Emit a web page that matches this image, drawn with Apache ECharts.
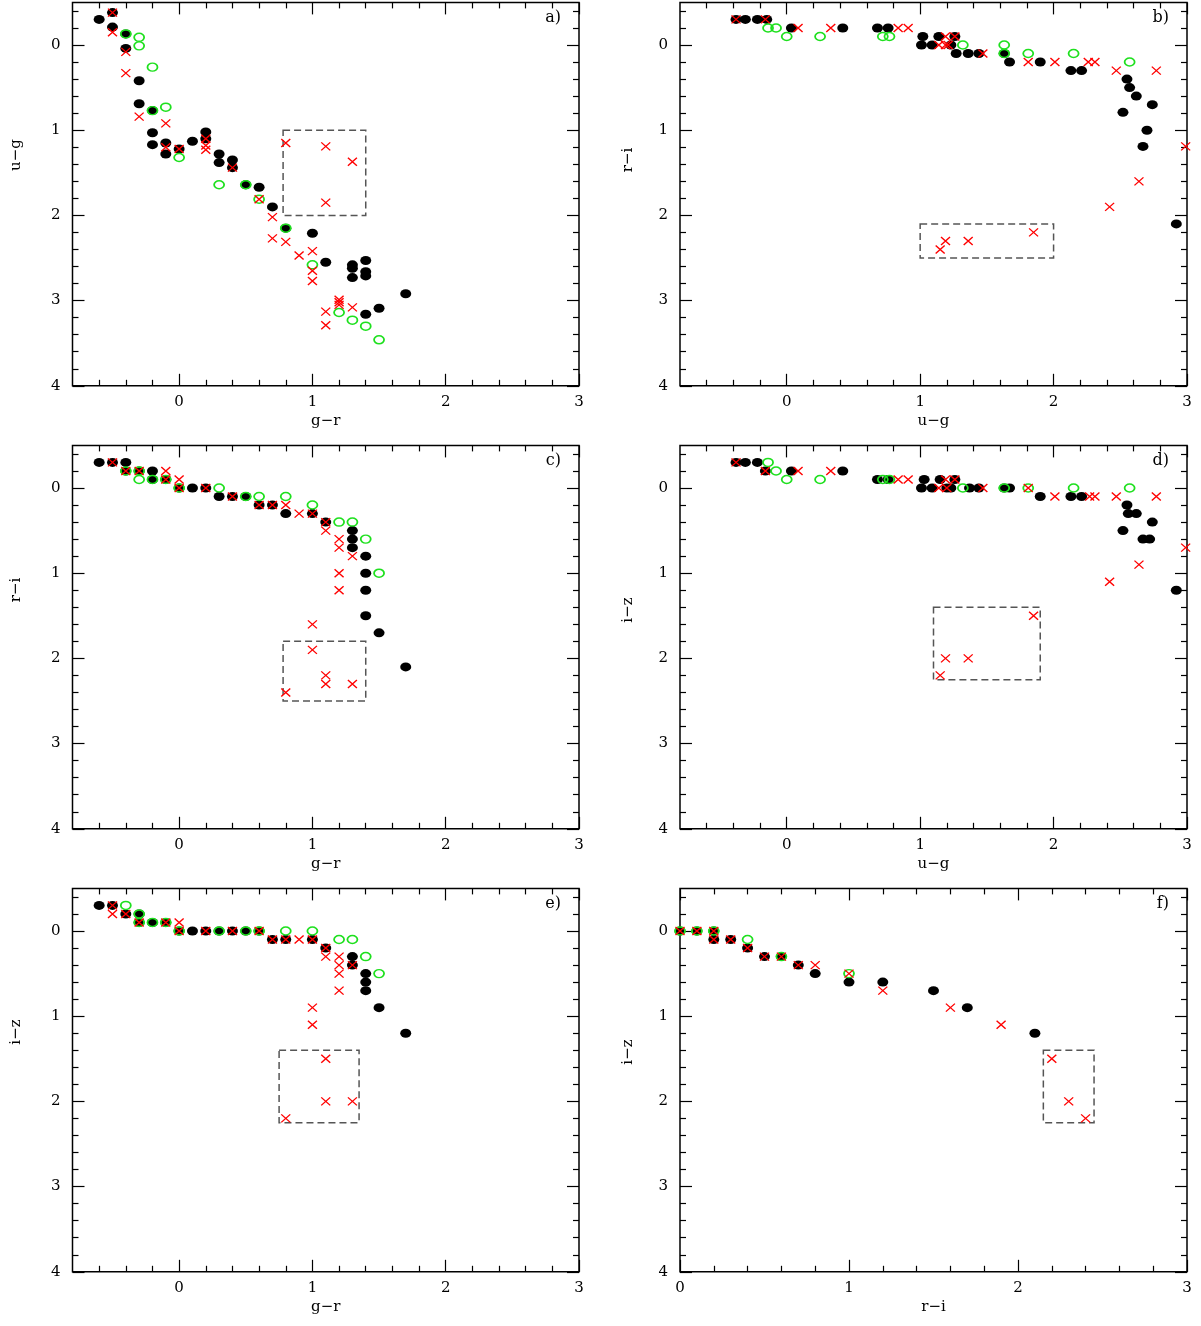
<!DOCTYPE html>
<html>
<head>
<meta charset="utf-8">
<script src="https://cdn.jsdelivr.net/npm/echarts@6/dist/echarts.min.js"></script>
<style>
  html, body { margin: 0; padding: 0; background: #fff; }
  #chart { width: 1201px; height: 1326px; }
</style>
</head>
<body>
<div id="chart"></div>
<script>
// ---- tick positions ----
var xMajor = [0, 1, 2, 3];
var xMinor = [-0.6, -0.4, -0.2, 0.2, 0.4, 0.6, 0.8, 1.2, 1.4, 1.6, 1.8, 2.2, 2.4, 2.6, 2.8];
var fMinor = [0.2, 0.4, 0.6, 0.8, 1.2, 1.4, 1.6, 1.8, 2.2, 2.4, 2.6, 2.8];
var yMajor = [0, 1, 2, 3, 4];
var yMinor = [-0.4, -0.2, 0.2, 0.4, 0.6, 0.8, 1.2, 1.4, 1.6, 1.8, 2.2, 2.4, 2.6, 2.8, 3.2, 3.4, 3.6, 3.8];

// ---- a) g-r vs u-g ----
var aBlack = [[-0.6,-0.3],[-0.5,-0.38],[-0.5,-0.21],[-0.4,-0.13],[-0.4,0.04],[-0.3,0.42],[-0.3,0.69],[-0.2,0.77],
  [-0.2,1.03],[-0.2,1.17],[-0.1,1.15],[-0.1,1.28],[0,1.22],[0.1,1.13],[0.2,1.02],[0.2,1.1],[0.3,1.28],[0.3,1.38],
  [0.4,1.35],[0.4,1.44],[0.5,1.64],[0.6,1.67],[0.7,1.9],[0.8,2.15],[1.0,2.21],[1.1,2.55],[1.3,2.58],[1.3,2.62],
  [1.3,2.73],[1.4,2.53],[1.4,2.66],[1.4,2.71],[1.7,2.92],[1.5,3.09],[1.4,3.16]];
var aGreen = [[-0.4,-0.13],[-0.3,-0.09],[-0.3,0.01],[-0.2,0.26],[-0.2,0.77],[-0.1,0.73],[0,1.32],[0.3,1.64],
  [0.5,1.64],[0.6,1.81],[0.8,2.15],[1.0,2.58],[1.2,3.14],[1.3,3.23],[1.4,3.3],[1.5,3.46]];
var aRed = [[-0.5,-0.38],[-0.5,-0.15],[-0.4,0.08],[-0.4,0.33],[-0.3,0.84],[-0.1,0.92],[-0.1,1.2],[0,1.22],
  [0.2,1.1],[0.2,1.18],[0.2,1.23],[0.4,1.44],[0.6,1.81],[0.7,2.02],[0.7,2.27],[0.8,2.31],[0.9,2.47],[1.0,2.42],
  [1.0,2.65],[1.0,2.77],[1.2,2.99],[1.2,3.02],[1.2,3.05],[1.3,3.08],[1.1,3.13],[1.1,3.29],
  [0.8,1.15],[1.1,1.19],[1.3,1.37],[1.1,1.85]];
var aBox = [[0.78, 1.0], [1.4, 2.0]];

// ---- b) u-g vs r-i ----
var bBlack = [[-0.38,-0.3],[-0.31,-0.3],[-0.22,-0.3],[-0.15,-0.3],[0.035,-0.2],[0.42,-0.2],[0.68,-0.2],[0.76,-0.2],
  [1.02,-0.1],[1.14,-0.1],[1.26,-0.1],[1.01,0],[1.09,0],[1.23,0],[1.27,0.1],[1.36,0.1],[1.44,0.1],[1.63,0.1],
  [1.67,0.2],[1.9,0.2],[2.13,0.3],[2.21,0.3],[2.55,0.4],[2.57,0.5],[2.62,0.6],[2.74,0.7],[2.52,0.79],[2.7,1.0],
  [2.67,1.19],[2.92,2.1]];
var bGreen = [[-0.14,-0.2],[-0.08,-0.2],[0,-0.1],[0.25,-0.1],[0.72,-0.1],[0.77,-0.1],[1.32,0],[1.63,0],
  [1.63,0.1],[1.81,0.1],[2.15,0.1],[2.57,0.2]];
var bRed = [[-0.38,-0.3],[-0.16,-0.3],[0.085,-0.2],[0.33,-0.2],[0.835,-0.2],[0.91,-0.2],[1.19,-0.1],[1.26,-0.1],
  [1.14,0],[1.19,0],[1.21,0],[1.47,0.1],[1.81,0.2],[2.01,0.2],[2.26,0.2],[2.31,0.2],[2.47,0.3],[2.77,0.3],
  [2.99,1.19],[2.64,1.6],[2.42,1.9],[1.19,2.3],[1.15,2.4],[1.36,2.3],[1.85,2.2]];
var bBox = [[1.0, 2.1], [2.0, 2.5]];

// ---- c) g-r vs r-i ----
var cBlack = [[-0.6,-0.3],[-0.5,-0.3],[-0.4,-0.3],[-0.4,-0.2],[-0.3,-0.2],[-0.2,-0.2],[-0.2,-0.1],[-0.1,-0.1],
  [0,0],[0.1,0],[0.2,0],[0.3,0.1],[0.4,0.1],[0.5,0.1],[0.6,0.2],[0.7,0.2],[0.8,0.3],[1.0,0.3],[1.1,0.4],
  [1.3,0.5],[1.3,0.6],[1.3,0.7],[1.4,0.8],[1.4,1.0],[1.4,1.2],[1.4,1.5],[1.5,1.7],[1.7,2.1]];
var cGreen = [[-0.4,-0.2],[-0.3,-0.2],[-0.3,-0.1],[-0.2,-0.1],[-0.1,-0.1],[0,0],[0.3,0],[0.5,0.1],[0.6,0.1],
  [0.8,0.1],[1.0,0.2],[1.2,0.4],[1.3,0.4],[1.4,0.6],[1.5,1.0]];
var cRed = [[-0.5,-0.3],[-0.4,-0.2],[-0.3,-0.2],[-0.1,-0.2],[-0.1,-0.1],[0,-0.1],[0,0],[0.2,0],[0.4,0.1],
  [0.6,0.2],[0.7,0.2],[0.8,0.2],[0.9,0.3],[1.0,0.3],[1.1,0.4],[1.1,0.5],[1.2,0.6],[1.2,0.7],[1.3,0.8],
  [1.2,1.0],[1.2,1.2],[1.0,1.6],[1.0,1.9],[1.1,2.2],[1.1,2.3],[1.3,2.3],[0.8,2.4]];
var cBox = [[0.78, 1.8], [1.4, 2.5]];

// ---- d) u-g vs i-z ----
var dBlack = [[-0.38,-0.3],[-0.31,-0.3],[-0.22,-0.3],[-0.16,-0.2],[0.035,-0.2],[0.42,-0.2],[0.68,-0.1],[0.76,-0.1],
  [1.03,-0.1],[1.15,-0.1],[1.26,-0.1],[1.01,0],[1.09,0],[1.2,0],[1.23,0],[1.37,0],[1.44,0],[1.63,0],[1.67,0],
  [1.9,0.1],[2.13,0.1],[2.21,0.1],[2.55,0.2],[2.56,0.3],[2.62,0.3],[2.74,0.4],[2.52,0.5],[2.67,0.6],[2.72,0.6],
  [2.92,1.2]];
var dGreen = [[-0.14,-0.3],[-0.08,-0.2],[0,-0.1],[0.25,-0.1],[0.72,-0.1],[0.77,-0.1],[1.32,0],[1.63,0],
  [1.81,0],[2.15,0],[2.57,0]];
var dRed = [[-0.38,-0.3],[-0.16,-0.2],[0.085,-0.2],[0.33,-0.2],[0.835,-0.1],[0.91,-0.1],[1.19,-0.1],[1.26,-0.1],
  [1.14,0],[1.2,0],[1.47,0],[1.81,0],[2.01,0.1],[2.27,0.1],[2.31,0.1],[2.47,0.1],[2.77,0.1],[2.99,0.7],
  [2.64,0.9],[2.42,1.1],[1.85,1.5],[1.19,2.0],[1.36,2.0],[1.15,2.2]];
var dBox = [[1.1, 1.4], [1.9, 2.25]];

// ---- e) g-r vs i-z ----
var eBlack = [[-0.6,-0.3],[-0.5,-0.3],[-0.4,-0.2],[-0.3,-0.2],[-0.3,-0.1],[-0.2,-0.1],[-0.1,-0.1],[0,0],[0.1,0],
  [0.2,0],[0.3,0],[0.4,0],[0.5,0],[0.6,0],[0.7,0.1],[0.8,0.1],[1.0,0.1],[1.1,0.2],[1.3,0.3],[1.3,0.4],
  [1.4,0.5],[1.4,0.6],[1.4,0.7],[1.5,0.9],[1.7,1.2]];
var eGreen = [[-0.4,-0.3],[-0.3,-0.2],[-0.3,-0.1],[-0.2,-0.1],[-0.1,-0.1],[0,0],[0.3,0],[0.5,0],[0.6,0],
  [0.8,0],[1.0,0],[1.2,0.1],[1.3,0.1],[1.4,0.3],[1.5,0.5]];
var eRed = [[-0.5,-0.3],[-0.5,-0.2],[-0.4,-0.2],[-0.3,-0.1],[-0.1,-0.1],[0,-0.1],[0,0],[0.2,0],[0.4,0],[0.6,0],
  [0.7,0.1],[0.8,0.1],[0.9,0.1],[1.0,0.1],[1.1,0.2],[1.1,0.3],[1.2,0.3],[1.2,0.4],[1.3,0.4],[1.2,0.5],
  [1.2,0.7],[1.0,0.9],[1.0,1.1],[1.1,1.5],[1.1,2.0],[1.3,2.0],[0.8,2.2]];
var eBox = [[0.75, 1.4], [1.35, 2.25]];

// ---- f) r-i vs i-z ----
var fBlack = [[0,0],[0.1,0],[0.2,0],[0.2,0.1],[0.3,0.1],[0.4,0.2],[0.5,0.3],[0.6,0.3],[0.7,0.4],[0.8,0.5],
  [1.0,0.6],[1.2,0.6],[1.5,0.7],[1.7,0.9],[2.1,1.2]];
var fGreen = [[0,0],[0.1,0],[0.2,0],[0.4,0.1],[0.6,0.3],[1.0,0.5]];
var fRed = [[0,0],[0.1,0],[0.2,0],[0.2,0.1],[0.3,0.1],[0.4,0.2],[0.5,0.3],[0.6,0.3],[0.7,0.4],[0.8,0.4],
  [1.0,0.5],[1.2,0.7],[1.6,0.9],[1.9,1.1],[2.2,1.5],[2.3,2.0],[2.4,2.2]];
var fBox = [[2.15, 1.4], [2.45, 2.25]];

var FONT = 'DejaVu Serif';
var MINUS = '\u2212';

var panels = [
  { tag: 'a)', grid: { left: 72.5, top: 2.4, width: 506.5, height: 383.4 }, x: [-0.8, 3], xMinor: xMinor,
    xName: 'g' + MINUS + 'r', yName: 'u' + MINUS + 'g', yTitle: [16, 155], black: aBlack, green: aGreen, red: aRed, box: aBox },
  { tag: 'b)', grid: { left: 680, top: 2.4, width: 507, height: 383.4 }, x: [-0.8, 3], xMinor: xMinor,
    xName: 'u' + MINUS + 'g', yName: 'r' + MINUS + 'i', yTitle: [628, 160], black: bBlack, green: bGreen, red: bRed, box: bBox },
  { tag: 'c)', grid: { left: 72.5, top: 445.4, width: 506.5, height: 383.4 }, x: [-0.8, 3], xMinor: xMinor,
    xName: 'g' + MINUS + 'r', yName: 'r' + MINUS + 'i', yTitle: [16, 590], black: cBlack, green: cGreen, red: cRed, box: cBox },
  { tag: 'd)', grid: { left: 680, top: 445.4, width: 507, height: 383.4 }, x: [-0.8, 3], xMinor: xMinor,
    xName: 'u' + MINUS + 'g', yName: 'i' + MINUS + 'z', yTitle: [628, 610], black: dBlack, green: dGreen, red: dRed, box: dBox },
  { tag: 'e)', grid: { left: 72.5, top: 888.4, width: 506.5, height: 383.4 }, x: [-0.8, 3], xMinor: xMinor,
    xName: 'g' + MINUS + 'r', yName: 'i' + MINUS + 'z', yTitle: [16, 1032], black: eBlack, green: eGreen, red: eRed, box: eBox },
  { tag: 'f)', grid: { left: 680, top: 888.4, width: 507, height: 383.4 }, x: [0, 3], xMinor: fMinor,
    xName: 'r' + MINUS + 'i', yName: 'i' + MINUS + 'z', yTitle: [628, 1052], black: fBlack, green: fGreen, red: fRed, box: fBox }
];

var chart = echarts.init(document.getElementById('chart'), null, { renderer: 'canvas' });

var grids = [], xAxes = [], yAxes = [], series = [], graphics = [];

panels.forEach(function (p, i) {
  grids.push(Object.assign({ show: true, borderColor: '#000', borderWidth: 1.5, backgroundColor: 'transparent' }, p.grid));

  // 4 x axes per panel: bottom major/minor, top major/minor
  ['bottom', 'top'].forEach(function (pos) {
    [[xMajor, 12], [p.xMinor, 6]].forEach(function (t, k) {
      var main = pos === 'bottom' && k === 0;
      xAxes.push({
        type: 'value', gridIndex: i, position: pos, min: p.x[0], max: p.x[1],
        axisLine: { show: false, onZero: false }, splitLine: { show: false },
        axisTick: { show: true, inside: true, length: t[1], customValues: t[0], lineStyle: { color: '#000', width: 1.2 } },
        axisLabel: { show: main, customValues: t[0], fontFamily: FONT, fontSize: 15, color: '#000', margin: 9 },
        name: main ? p.xName : '', nameLocation: 'middle', nameGap: 28,
        nameTextStyle: { fontFamily: FONT, fontSize: 15, color: '#000' }
      });
    });
  });

  // 4 y axes per panel: left major/minor, right major/minor
  ['left', 'right'].forEach(function (pos) {
    [[yMajor, 12], [yMinor, 6]].forEach(function (t, k) {
      var main = pos === 'left' && k === 0;
      yAxes.push({
        type: 'value', gridIndex: i, position: pos, min: -0.5, max: 4, inverse: true,
        axisLine: { show: false, onZero: false }, splitLine: { show: false },
        axisTick: { show: true, inside: true, length: t[1], customValues: t[0], lineStyle: { color: '#000', width: 1.2 } },
        axisLabel: { show: main, customValues: t[0], fontFamily: FONT, fontSize: 15, color: '#000', margin: 12 }
      });
    });
  });

  var ax = i * 4;
  series.push({
    type: 'scatter', xAxisIndex: ax, yAxisIndex: ax, data: p.black,
    symbol: 'circle', symbolSize: [11, 9], itemStyle: { color: '#000', opacity: 1 }, silent: true, z: 2
  });
  series.push({
    type: 'scatter', xAxisIndex: ax, yAxisIndex: ax, data: p.green,
    symbol: 'circle', symbolSize: [10, 8],
    itemStyle: { color: 'rgba(0,0,0,0)', borderColor: '#1ee01e', borderWidth: 1.6, opacity: 1 }, silent: true, z: 3
  });
  series.push({
    type: 'scatter', xAxisIndex: ax, yAxisIndex: ax, data: p.red,
    symbol: 'path://M0 0L10 10M10 0L0 10', symbolSize: [9, 8],
    itemStyle: { color: 'rgba(0,0,0,0)', borderColor: '#ff0000', borderWidth: 1.3, opacity: 1 }, silent: true, z: 4,
    markArea: {
      silent: true,
      itemStyle: { color: 'rgba(0,0,0,0)', borderColor: '#555', borderWidth: 1.5, borderType: [7, 4] },
      data: [[{ coord: p.box[0] }, { coord: p.box[1] }]]
    }
  });

  // y axis title and panel tag
  graphics.push({
    type: 'text', x: p.yTitle[0], y: p.yTitle[1], rotation: Math.PI / 2,
    style: { text: p.yName, fontFamily: FONT, fontSize: 15, fill: '#000', align: 'center', verticalAlign: 'middle' }
  });
  graphics.push({
    type: 'text', x: p.grid.left + p.grid.width - 18, y: p.grid.top + 15,
    style: { text: p.tag, fontFamily: FONT, fontSize: 16, fill: '#000', align: 'right', verticalAlign: 'middle' }
  });
});

chart.setOption({
  animation: false,
  backgroundColor: '#fff',
  grid: grids,
  xAxis: xAxes,
  yAxis: yAxes,
  series: series,
  graphic: graphics
});
</script>
</body>
</html>
